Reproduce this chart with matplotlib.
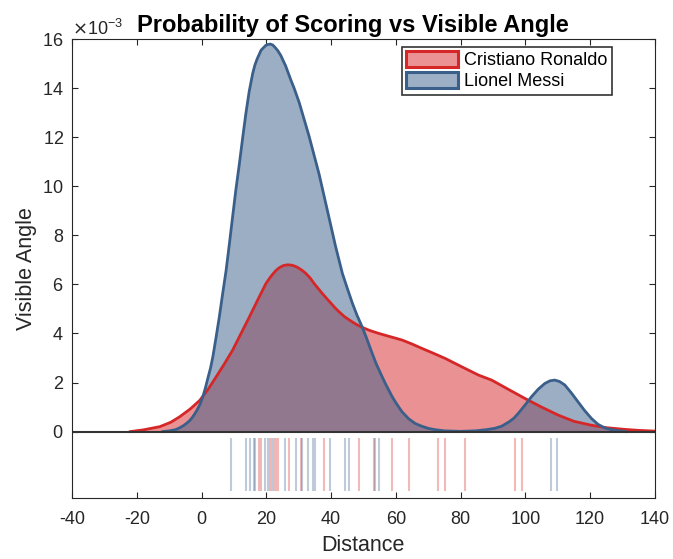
import matplotlib
matplotlib.use("Agg")
import matplotlib.pyplot as plt
from matplotlib.patches import Patch

plt.rcParams['font.family'] = ['Liberation Sans', 'DejaVu Sans']
plt.rcParams['axes.unicode_minus'] = False

# density curves (y in units of 1e-3)
ronaldo_x = [-22, -18, -12.9, -9.5, -6.8, -3.5, -0.5, 2, 4.5, 7, 9.6, 12.2, 14.8, 17.4, 19.9,
             21, 22, 23, 24, 25.3, 26.6, 27.6, 28.5, 29.4, 30.2, 31.2, 32.2, 33.5, 34.7, 36,
             37.3, 38.7, 40, 41.2, 42.5, 44.2, 46, 47.8, 49.6, 52, 54.8, 58, 62,
             65, 68.1, 71.5, 75.3, 80.4, 85.6, 89.6, 94.8, 99.9, 105, 110.2, 115, 120.4,
             125, 130.7, 135, 140]
ronaldo_y = [0, 0.07, 0.2, 0.38, 0.6, 0.92, 1.28, 1.72, 2.23, 2.75, 3.32, 4.0, 4.68, 5.38, 6.04,
             6.25, 6.42, 6.57, 6.68, 6.77, 6.8, 6.79, 6.76, 6.71, 6.65, 6.56, 6.45, 6.27, 6.05, 5.84,
             5.63, 5.42, 5.23, 5.05, 4.88, 4.68, 4.52, 4.37, 4.25, 4.12, 4.0, 3.88, 3.73,
             3.57, 3.39, 3.2, 2.98, 2.64, 2.3, 2.1, 1.72, 1.35, 1.0, 0.67, 0.42, 0.26,
             0.16, 0.09, 0.05, 0.02]

messi_x = [-12, -10, -8, -6.8, -5.5, -4.5, -3.5, -2.7, -1.5, -0.5, 0.4, 1.2, 2, 2.8, 3.5, 4.5,
           5.5, 6.5, 7.6, 8.6, 9.6, 10.6, 11.7, 12.7, 13.7, 14.7, 15.8, 16.5, 17.2, 18.4, 19.8,
           20.5, 21.2, 22, 22.8, 23.6, 24.5, 26, 27.6, 28.6, 30.2, 33.2, 36.3, 38.9, 41.4, 43.5,
           45, 46.6, 48, 49.6, 51, 52.7, 54, 55.8, 57, 58.9, 60, 61.9, 64, 66, 68, 70.1, 72,
           75, 80, 84.5, 88, 90.5, 92.7, 95, 96.5, 97.8, 99.9, 101.9, 104, 106, 107.6, 109.1,
           110.6, 112.2, 114.2, 116.3, 118.3, 120.4, 122.4, 124.5, 126.5, 128.6, 131]
messi_y = [0, 0.03, 0.08, 0.15, 0.25, 0.35, 0.47, 0.6, 0.85, 1.1, 1.42, 1.78, 2.2, 2.6, 3.05, 3.85,
           4.68, 5.6, 6.58, 7.65, 8.76, 9.85, 10.93, 11.97, 12.97, 13.85, 14.6, 14.95, 15.2, 15.55, 15.74,
           15.78, 15.8, 15.76, 15.65, 15.52, 15.33, 14.9, 14.33, 14.0, 13.4, 12.05, 10.5, 9.0, 7.55, 6.45,
           5.85, 5.23, 4.75, 4.27, 3.8, 3.19, 2.75, 2.23, 1.9, 1.42, 1.18, 0.81, 0.52, 0.33, 0.22, 0.13, 0.08,
           0.03, 0.01, 0.03, 0.08, 0.13, 0.22, 0.4, 0.55, 0.74, 1.08, 1.42, 1.73, 1.96, 2.07, 2.1,
           2.04, 1.9, 1.58, 1.21, 0.86, 0.54, 0.3, 0.15, 0.08, 0.04, 0]

# individual shots (rug)
ronaldo_shots = [17.6, 18.5, 21.1, 22.4, 23.0, 23.6, 27.1, 30.8, 37.8, 48.7, 53.2, 58.9, 64.2,
                 72.9, 75.1, 81.5, 96.8, 98.9]
messi_shots = [9.1, 13.8, 15.0, 16.1, 16.6, 19.5, 20.4, 21.7, 25.8, 29.3, 31.0, 33.0, 34.3,
               34.9, 39.6, 44.2, 45.4, 53.7, 54.8, 108.0, 109.7]

red = '#d62728'
blue = '#3a5f8a'

fig = plt.figure(figsize=(6.73, 5.59), dpi=100)
ax = fig.add_axes([0.107, 0.109, 0.866, 0.821])

ry = [v * 1e-3 for v in ronaldo_y]
my = [v * 1e-3 for v in messi_y]
ax.fill_between(ronaldo_x, ry, 0, color=red, alpha=0.5, lw=0)
ax.plot(ronaldo_x, ry, color=red, lw=2, solid_joinstyle='round')
ax.fill_between(messi_x, my, 0, color=blue, alpha=0.5, lw=0)
ax.plot(messi_x, my, color=blue, lw=2, solid_joinstyle='round')

ax.vlines(ronaldo_shots, -2.43e-3, -0.27e-3, color=red, alpha=0.32, lw=1.5)
ax.vlines(messi_shots, -2.43e-3, -0.27e-3, color=blue, alpha=0.32, lw=1.5)

ax.axhline(0, color='#333333', lw=1.5)

ax.set_xlim(-40, 140)
ax.set_ylim(-2.71e-3, 16e-3)
ax.set_xticks(range(-40, 141, 20))
ax.set_yticks([i * 1e-3 for i in range(0, 17, 2)])
ax.ticklabel_format(axis='y', style='sci', scilimits=(-3, -3), useMathText=True)
ax.tick_params(direction='in', top=True, right=True, length=4, labelsize=13,
               color='#262626', labelcolor='#262626', pad=6)
ax.tick_params(axis='x', pad=9)
for s in ax.spines.values():
    s.set_color('#262626')
ax.yaxis.get_offset_text().set_fontsize(13)
ax.yaxis.get_offset_text().set_color('#262626')

ax.set_title('Probability of Scoring vs Visible Angle', fontsize=17, fontweight='bold',
             x=0.482, y=1.0, pad=5)
ax.set_xlabel('Distance', fontsize=15.5, labelpad=5, color='#262626')
ax.set_ylabel('Visible Angle', fontsize=15.5, labelpad=4, color='#262626')

handles = [Patch(facecolor='#eb9394', edgecolor=red, lw=2.2),
           Patch(facecolor='#9cafc4', edgecolor=blue, lw=2.2)]
leg = ax.legend(handles, ['Cristiano Ronaldo', 'Lionel Messi'], loc='upper right',
                bbox_to_anchor=(0.926, 0.983), fontsize=13, fancybox=False, framealpha=1,
                edgecolor='#333333', borderpad=0.25, handlelength=2.9, handleheight=0.95,
                handletextpad=0.3, labelspacing=0.15, borderaxespad=0)
leg.get_frame().set_linewidth(1.2)

fig.savefig('out.png', dpi=100)
